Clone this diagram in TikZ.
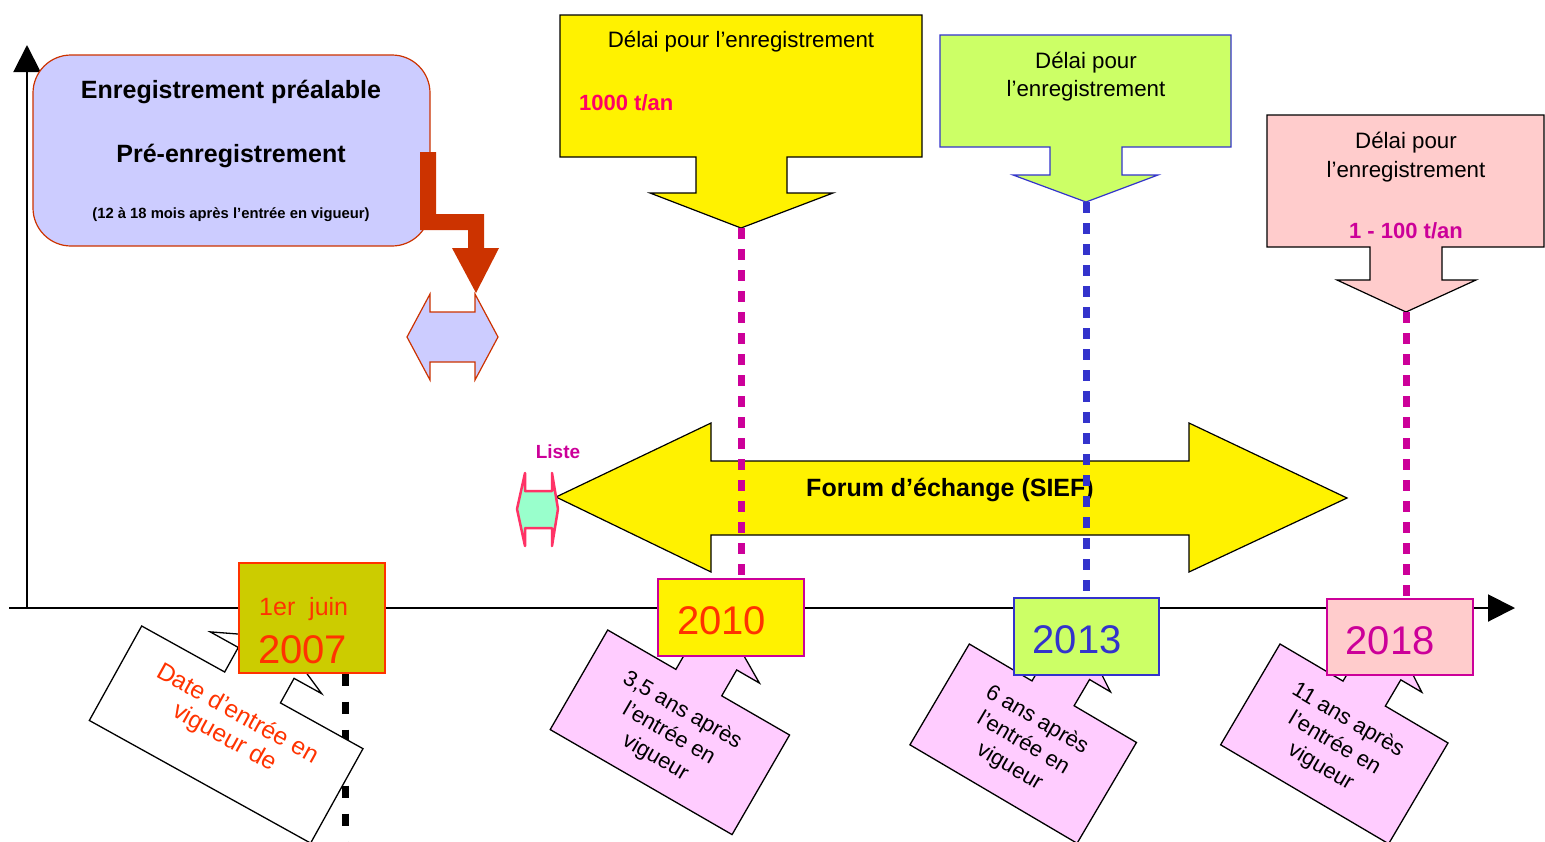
\documentclass[tikz,border=0pt]{standalone}
\usepackage{fontspec}
\setmainfont{Liberation Sans}
\usetikzlibrary{arrows.meta,backgrounds}

\definecolor{lavender}{HTML}{CCCCFF}
\definecolor{brick}{HTML}{CC3300}
\definecolor{regblue}{HTML}{3333CC}
\definecolor{regmag}{HTML}{CC0099}
\definecolor{regrose}{HTML}{FF0066}
\definecolor{regred}{HTML}{FF3300}
\definecolor{regolive}{HTML}{CCCC00}
\definecolor{reggreen}{HTML}{CCFF66}
\definecolor{regpink}{HTML}{FFCCCC}
\definecolor{regviolet}{HTML}{FFCCFF}
\definecolor{regmint}{HTML}{99FFCC}
\definecolor{regcoral}{HTML}{FF3366}

\begin{document}
\begin{tikzpicture}[x=1pt, y=-1pt,
  txt/.style     = {inner sep=0pt, align=center, font=\fontsize{22.3}{28}\selectfont},
  bold/.style    = {txt, font=\fontsize{25}{28}\selectfont\bfseries},
  year/.style    = {draw, line width=1.4pt, inner sep=0pt, minimum width=146pt, minimum height=77pt},
  yeartxt/.style = {inner sep=0pt, anchor=base, font=\fontsize{40}{42}\selectfont},
  arrowbox/.style= {draw, line width=1.2pt, line join=miter},
  vdash/.style   = {line width=7pt, dash pattern=on 11pt off 10pt},
  axis/.style    = {line width=2pt, -{Triangle[length=27pt,width=27pt]}},
  bubble/.style  = {draw=black, line width=1.3pt, line join=miter},
]
\useasboundingbox (0,0) rectangle (1545,841);
\clip (0,0) rectangle (1545,841);

% ---- axes ------------------------------------------------------------------
\coordinate (origin) at (27,608);
\coordinate (xend)   at (1515,608);
\coordinate (yend)   at (27,45);
\draw[axis] (9,608) -- (xend);
\draw[axis] (origin) -- (yend);

% ---- pre-registration ------------------------------------------------------
\node[draw=brick, fill=lavender, line width=1.2pt, rounded corners=38pt,
      minimum width=397pt, minimum height=191pt] (prereg) at (231.5,150.5) {};
\node[bold, anchor=base] (pretitle) at (231,98)  {Enregistrement préalable};
\node[bold, anchor=base] (presub)   at (231,162) {Pré-enregistrement};
\node[txt, anchor=base, font=\fontsize{14.8}{16}\selectfont\bfseries] (prenote) at (231,218)
  {(12 à 18 mois après l’entrée en vigueur)};

\fill[brick] (420,152) -- (436,152) -- (436,214) -- (484,214) -- (484,248) -- (499,248)
  -- (476,293) -- (452,248) -- (468,248) -- (468,230) -- (420,230) -- cycle;
\draw[arrowbox, draw=brick, fill=lavender] (430,294) -- (430,312) -- (475,312) -- (475,294)
  -- (498,337) -- (475,380) -- (475,362) -- (430,362) -- (430,380) -- (407,337) -- cycle;

% ---- exchange forum --------------------------------------------------------
\draw[arrowbox, fill=yellow] (556,497) -- (711,423) -- (711,461) -- (1189,461) -- (1189,423)
  -- (1347,498) -- (1189,572) -- (1189,535) -- (711,535) -- (711,572) -- cycle;
\node[bold, anchor=base] (sief) at (950,496) {Forum d’échange (SIEF)};

\draw[line width=2.5pt, draw=regcoral, fill=regmint, line join=round] (525,473) -- (525,491)
  -- (552,491) -- (552,473) -- (558,509) -- (552,546) -- (552,528) -- (525,528) -- (525,546)
  -- (517,509) -- cycle;
\node[txt, anchor=base, font=\fontsize{19}{20}\selectfont\bfseries, text=regmag] (liste) at (558,458) {Liste};

% ---- registration deadlines ------------------------------------------------
\draw[arrowbox, fill=yellow] (560,15) -- (922,15) -- (922,157) -- (787,157) -- (787,193)
  -- (833,193) -- (741,228) coordinate (tip1) -- (650,193) -- (696,193) -- (696,157)
  -- (560,157) -- cycle;
\node[txt, anchor=base] (delai1) at (741,47) {Délai pour l’enregistrement};
\node[txt, anchor=base west, font=\fontsize{22}{28}\selectfont\bfseries, text=regrose] (seuil1) at (579,110) {1000 t/an};

\draw[arrowbox, draw=regblue, fill=reggreen] (940,35) -- (1231,35) -- (1231,147) -- (1122,147)
  -- (1122,175) -- (1158,175) -- (1086,202) coordinate (tip2) -- (1013,175) -- (1050,175)
  -- (1050,147) -- (940,147) -- cycle;
\node[txt, anchor=base] (delai2a) at (1086,68) {Délai pour};
\node[txt, anchor=base] (delai2b) at (1086,96) {l’enregistrement};

\draw[arrowbox, fill=regpink] (1267,115) -- (1544,115) -- (1544,247) -- (1442,247) -- (1442,280)
  -- (1476,280) -- (1406,312) coordinate (tip3) -- (1337,280) -- (1370,280) -- (1370,247)
  -- (1267,247) -- cycle;
\node[txt, anchor=base] (delai3a) at (1406,148) {Délai pour};
\node[txt, anchor=base] (delai3b) at (1406,177) {l’enregistrement};
\node[txt, anchor=base, font=\fontsize{22}{28}\selectfont\bfseries, text=regmag] (seuil3) at (1406,238) {1 - 100 t/an};

% ---- callouts below the axis -----------------------------------------------
\foreach \cx/\cy/\cw/\ch/\ang/\bg/\fg/\fs/\ty/\msg [count=\i] in {
    141.7/626/253/108/-29/white/regred/24.5/0.41/{Date d’entrée en\\vigueur de},
    607.7/630/210/115/-30/regviolet/black/22/0.52/{3,5 ans après\\l’entrée en\\vigueur},
    969.3/644/194/117/-30.5/regviolet/black/22/0.50/{6 ans après\\l’entrée en\\vigueur},
    1280/644/195/117/-30.5/regviolet/black/22/0.50/{11 ans après\\l’entrée en\\vigueur}}
{
  \begin{scope}[shift={(\cx,\cy)}, rotate=\ang]
    \draw[bubble, fill=\bg] (0,0) -- (0.375*\cw,0) -- (0.375*\cw,-0.26*\ch) -- (0.248*\cw,-0.26*\ch)
      -- (0.5*\cw,-0.53*\ch) -- (0.752*\cw,-0.26*\ch) -- (0.627*\cw,-0.26*\ch) -- (0.627*\cw,0)
      -- (\cw,0) -- (\cw,\ch) -- (0,\ch) -- cycle;
    \node[txt, font=\fontsize{\fs}{27}\selectfont, text=\fg, rotate=\ang] (note\i) at (0.5*\cw,\ty*\ch) {\msg};
  \end{scope}
}

% ---- years -----------------------------------------------------------------
\node[year, fill=regolive, draw=regred, minimum height=110pt] (y2007) at (312,618) {};
\node[yeartxt, anchor=base west, font=\fontsize{25}{26}\selectfont, text=regred] (d2007) at (259,615) {1er\ \ juin};
\node[yeartxt, anchor=base west, text=regred] (t2007) at (258,663) {2007};

\node[year, fill=yellow, draw=regmag] (y2010) at (731,617.5) {};
\node[yeartxt, text=regred] (t2010) at (721.5,634) {2010};

\node[year, fill=reggreen, draw=regblue, minimum width=145pt] (y2013) at (1086.5,636.5) {};
\node[yeartxt, text=regblue] (t2013) at (1077,653) {2013};

\node[year, fill=regpink, draw=regmag, minimum height=76pt] (y2018) at (1400,637) {};
\node[yeartxt, text=regmag] (t2018) at (1390,654) {2018};

% ---- dotted links ----------------------------------------------------------
\draw[vdash, regmag]  (tip1) -- (tip1 |- y2010.north);
\draw[vdash, regblue] (tip2) -- (tip2 |- y2013.north);
\draw[vdash, regmag]  (tip3) -- (tip3 |- y2018.north);
\begin{scope}[on background layer]
  \draw[vdash, black, dash pattern=on 12pt off 16pt] ([xshift=33pt]y2007.south) -- ++(0,170);
\end{scope}

\end{tikzpicture}
\end{document}
